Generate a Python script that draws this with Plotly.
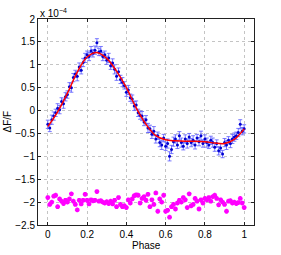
import plotly.graph_objects as go

phase = [0.00, 0.01, 0.02, 0.03, 0.04, 0.05, 0.06, 0.07, 0.08, 0.09,
         0.10, 0.11, 0.12, 0.13, 0.14, 0.15, 0.16, 0.17, 0.18, 0.19,
         0.20, 0.21, 0.22, 0.23, 0.24, 0.25, 0.26, 0.27, 0.28, 0.29,
         0.30, 0.31, 0.32, 0.33, 0.34, 0.35, 0.36, 0.37, 0.38, 0.39,
         0.40, 0.41, 0.42, 0.43, 0.44, 0.45, 0.46, 0.47, 0.48, 0.49,
         0.50, 0.51, 0.52, 0.53, 0.54, 0.55, 0.56, 0.57, 0.58, 0.59,
         0.60, 0.61, 0.62, 0.63, 0.64, 0.65, 0.66, 0.67, 0.68, 0.69,
         0.70, 0.71, 0.72, 0.73, 0.74, 0.75, 0.76, 0.77, 0.78, 0.79,
         0.80, 0.81, 0.82, 0.83, 0.84, 0.85, 0.86, 0.87, 0.88, 0.89,
         0.90, 0.91, 0.92, 0.93, 0.94, 0.95, 0.96, 0.97, 0.98, 0.99, 1.00]

# Delta F / F in units of 1e-4
flux = [-0.30, -0.38, -0.20, -0.12, -0.05, 0.05, 0.02, 0.20, 0.15, 0.30,
        0.35, 0.52, 0.50, 0.72, 0.80, 0.75, 0.95, 0.88, 1.05, 1.15,
        1.22, 1.18, 1.30, 1.25, 1.32, 1.48, 1.28, 1.30, 1.18, 1.22,
        1.10, 1.15, 0.98, 1.04, 0.90, 0.75, 0.85, 0.68, 0.62, 0.55,
        0.40, 0.45, 0.28, 0.25, 0.10, 0.12, -0.05, -0.10, -0.12, -0.25,
        -0.20, -0.38, -0.40, -0.52, -0.45, -0.62, -0.55, -0.70, -0.75, -0.60,
        -0.78, -0.72, -1.00, -0.85, -0.68, -0.62, -0.75, -0.55, -0.70, -0.78,
        -0.62, -0.72, -0.58, -0.70, -0.65, -0.75, -0.60, -0.68, -0.55, -0.72,
        -0.62, -0.70, -0.75, -0.65, -0.70, -0.80, -0.72, -0.88, -0.82, -0.95,
        -0.70, -0.75, -0.65, -0.72, -0.62, -0.58, -0.55, -0.48, -0.30, -0.45, -0.40]

flux_err = [0.09, 0.08, 0.10, 0.09, 0.08, 0.10, 0.09, 0.08, 0.10, 0.09,
            0.08, 0.09, 0.10, 0.09, 0.08, 0.10, 0.09, 0.08, 0.09, 0.10,
            0.08, 0.09, 0.10, 0.08, 0.09, 0.09, 0.08, 0.10, 0.09, 0.08,
            0.09, 0.10, 0.08, 0.09, 0.10, 0.09, 0.08, 0.09, 0.10, 0.08,
            0.09, 0.10, 0.08, 0.09, 0.10, 0.09, 0.08, 0.09, 0.10, 0.08,
            0.09, 0.10, 0.08, 0.09, 0.10, 0.09, 0.08, 0.09, 0.10, 0.08,
            0.09, 0.10, 0.10, 0.09, 0.10, 0.09, 0.08, 0.09, 0.10, 0.08,
            0.09, 0.10, 0.08, 0.09, 0.10, 0.09, 0.08, 0.09, 0.10, 0.08,
            0.09, 0.10, 0.08, 0.09, 0.10, 0.09, 0.08, 0.09, 0.10, 0.08,
            0.09, 0.10, 0.08, 0.09, 0.10, 0.09, 0.08, 0.09, 0.10, 0.08, 0.09]

fit_phase = [0.00, 0.05, 0.10, 0.15, 0.20, 0.25, 0.30, 0.35, 0.40, 0.45,
             0.50, 0.55, 0.60, 0.65, 0.70, 0.75, 0.80, 0.85, 0.90, 0.95, 1.00]
fit_flux = [-0.35, -0.03, 0.38, 0.84, 1.17, 1.27, 1.14, 0.86, 0.50, 0.06,
            -0.30, -0.55, -0.64, -0.66, -0.67, -0.67, -0.68, -0.71, -0.72, -0.63, -0.40]

residual = [-1.90, -2.05, -2.00, -1.87, -1.85, -2.10, -1.93, -1.98, -2.03, -1.96,
            -2.00, -1.93, -1.82, -1.98, -2.05, -2.17, -1.96, -2.04, -1.96, -1.83,
            -1.96, -2.04, -1.95, -1.97, -1.96, -1.77, -1.98, -1.97, -2.00, -2.02,
            -1.99, -2.03, -1.98, -2.04, -1.96, -2.10, -1.90, -2.05, -2.10, -2.08,
            -2.12, -1.95, -2.02, -1.93, -1.86, -1.84, -1.85, -2.02, -1.92, -1.88,
            -1.96, -1.83, -2.10, -1.95, -2.05, -1.80, -2.20, -1.93, -2.00, -1.85,
            -2.20, -2.18, -2.33, -2.10, -2.05, -2.15, -2.02, -1.96, -2.00, -1.90,
            -1.95, -2.12, -1.82, -2.08, -2.05, -1.92, -1.98, -2.15, -1.95, -2.02,
            -1.92, -1.95, -1.90, -1.98, -1.88, -1.85, -1.92, -2.06, -1.95, -2.00,
            -2.05, -2.20, -1.98, -1.97, -2.02, -2.00, -2.03, -2.01, -1.92, -2.02, -2.12]

x_ticks = [0, 0.2, 0.4, 0.6, 0.8, 1]
y_ticks = [-2.5, -2, -1.5, -1, -0.5, 0, 0.5, 1, 1.5, 2]

FONT = "Liberation Sans, Arial, Helvetica, sans-serif"

fig = go.Figure()
fig.add_trace(go.Scatter(
    x=phase, y=residual, mode="markers",
    marker=dict(symbol="asterisk-open", size=4, color="#ff00ff",
                line=dict(color="#ff33ff", width=1.5)),
    showlegend=False, hoverinfo="skip"))
fig.add_trace(go.Scatter(
    x=phase, y=flux, mode="markers",
    marker=dict(size=3, color="#0000d0"),
    error_y=dict(type="data", array=flux_err, color="rgba(90,90,255,0.8)",
                 thickness=1, width=2),
    showlegend=False, hoverinfo="skip"))
fig.add_trace(go.Scatter(
    x=fit_phase, y=fit_flux, mode="lines",
    line=dict(color="#ff0000", width=1.5, shape="spline", smoothing=1.0),
    showlegend=False, hoverinfo="skip"))

axis_common = dict(
    showline=True, linecolor="#222222", linewidth=1, mirror="ticks",
    ticks="inside", ticklen=3, tickcolor="#222222",
    showgrid=True, gridcolor="#c4c4c4", griddash="dot", gridwidth=1,
    zeroline=False, automargin=False,
    tickfont=dict(family=FONT, size=10, color="#000000"),
)

fig.update_xaxes(range=[-0.05, 1.05], tickvals=x_ticks, **axis_common)
fig.update_yaxes(range=[-2.5, 2], tickvals=y_ticks, **axis_common)

fig.add_annotation(
    x=0, y=1, xref="paper", yref="paper", xanchor="left", yanchor="bottom",
    text="x 10<sup>−4</sup>", showarrow=False, yshift=-2,
    font=dict(family=FONT, size=10, color="#000"))
fig.add_annotation(
    x=0.5, y=0, xref="paper", yref="paper", xanchor="center", yanchor="top",
    text="Phase", showarrow=False, yshift=-13,
    font=dict(family=FONT, size=10, color="#000"))
fig.add_annotation(
    x=0, y=0.5, xref="paper", yref="paper", xanchor="right", yanchor="middle",
    text="ΔF/F", showarrow=False, textangle=-90, xshift=-24,
    font=dict(family=FONT, size=10, color="#000"))

fig.update_layout(
    width=281, height=255,
    margin=dict(l=38, r=27, t=19, b=30),
    paper_bgcolor="white", plot_bgcolor="white",
    font=dict(family=FONT, size=10, color="#000"),
)

fig.write_html("out.html",
               config={"displayModeBar": False, "staticPlot": True},
               post_script="document.body.style.margin='0';document.body.style.overflow='hidden';")
